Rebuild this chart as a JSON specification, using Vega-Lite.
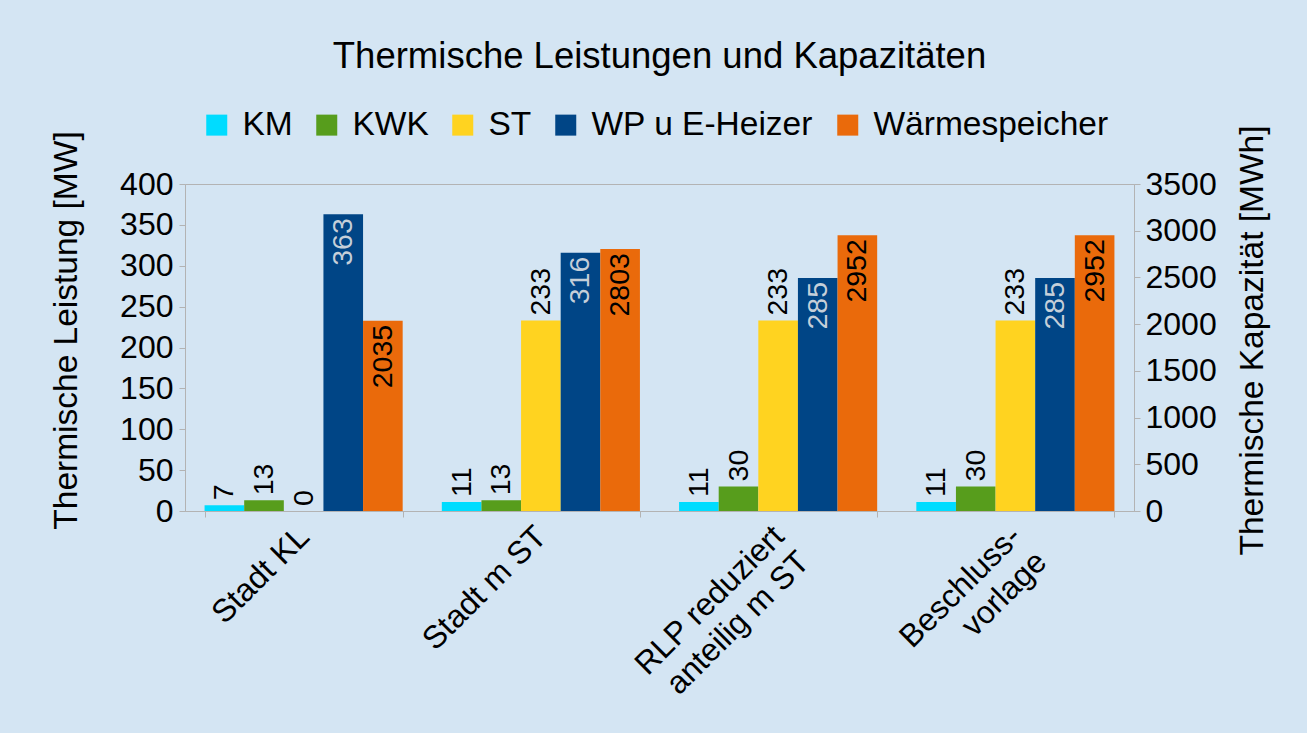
{
  "$schema": "https://vega.github.io/schema/vega-lite/v6.json",
  "width": 949,
  "height": 327,
  "autosize": {"type": "none"},
  "padding": {"left": 185, "top": 184, "right": 173, "bottom": 222},
  "background": "#d4e5f3",
  "title": {
    "text": "Thermische Leistungen und Kapazitäten",
    "fontSize": 36.5,
    "fontWeight": "normal",
    "color": "black",
    "anchor": "middle",
    "frame": "group",
    "offset": 33
  },
  "data": {
    "values": [
      {"scenario": "Stadt KL", "series": "KM", "value": 7},
      {"scenario": "Stadt KL", "series": "KWK", "value": 13},
      {"scenario": "Stadt KL", "series": "ST", "value": 0},
      {"scenario": "Stadt KL", "series": "WP u E-Heizer", "value": 363},
      {"scenario": "Stadt KL", "series": "Wärmespeicher", "value": 2035},
      {"scenario": "Stadt m ST", "series": "KM", "value": 11},
      {"scenario": "Stadt m ST", "series": "KWK", "value": 13},
      {"scenario": "Stadt m ST", "series": "ST", "value": 233},
      {"scenario": "Stadt m ST", "series": "WP u E-Heizer", "value": 316},
      {"scenario": "Stadt m ST", "series": "Wärmespeicher", "value": 2803},
      {"scenario": "RLP reduziert\nanteilig m ST", "series": "KM", "value": 11},
      {"scenario": "RLP reduziert\nanteilig m ST", "series": "KWK", "value": 30},
      {"scenario": "RLP reduziert\nanteilig m ST", "series": "ST", "value": 233},
      {"scenario": "RLP reduziert\nanteilig m ST", "series": "WP u E-Heizer", "value": 285},
      {"scenario": "RLP reduziert\nanteilig m ST", "series": "Wärmespeicher", "value": 2952},
      {"scenario": "Beschluss-\nvorlage", "series": "KM", "value": 11},
      {"scenario": "Beschluss-\nvorlage", "series": "KWK", "value": 30},
      {"scenario": "Beschluss-\nvorlage", "series": "ST", "value": 233},
      {"scenario": "Beschluss-\nvorlage", "series": "WP u E-Heizer", "value": 285},
      {"scenario": "Beschluss-\nvorlage", "series": "Wärmespeicher", "value": 2952}
    ]
  },
  "encoding": {
    "x": {
      "field": "scenario",
      "type": "nominal",
      "sort": null,
      "scale": {"paddingInner": 0.165, "paddingOuter": 0.0825},
      "axis": {
        "title": null,
        "labelAngle": -45,
        "labelAlign": "right",
        "labelBaseline": "middle",
        "labelFontSize": 32,
        "labelPadding": 14,
        "labelLineHeight": 36,
        "labelLimit": 600,
        "labelExpr": "split(datum.label, '\\n')",
        "tickBand": "extent",
        "tickSize": 6,
        "labelOverlap": false
      }
    },
    "xOffset": {
      "field": "series",
      "type": "nominal",
      "scale": {
        "domain": ["KM", "KWK", "ST", "WP u E-Heizer", "Wärmespeicher"],
        "paddingInner": 0,
        "paddingOuter": 0
      }
    }
  },
  "layer": [
    {
      "layer": [
        {
          "transform": [{"filter": "datum.series !== 'Wärmespeicher'"}],
          "mark": {"type": "bar"},
          "encoding": {
            "y": {
              "field": "value",
              "type": "quantitative",
              "scale": {"domain": [0, 400], "nice": false},
              "axis": {
                "title": "Thermische Leistung [MW]",
                "values": [0, 50, 100, 150, 200, 250, 300, 350, 400],
                "format": "d",
                "labelFontSize": 32,
                "labelPadding": 6,
                "tickSize": 6,
                "titlePadding": 36,
                "titleY": 146,
                "labelOverlap": false
              }
            },
            "color": {
              "field": "series",
              "type": "nominal",
              "scale": {
                "domain": ["KM", "KWK", "ST", "WP u E-Heizer", "Wärmespeicher"],
                "range": ["#00dcff", "#579d1c", "#ffd320", "#004586", "#ea6a0b"]
              },
              "legend": {
                "title": null,
                "orient": "none",
                "direction": "horizontal",
                "legendX": 15,
                "legendY": -76,
                "symbolType": "square",
                "symbolSize": 441,
                "symbolStrokeWidth": 0,
                "symbolOpacity": 1,
                "labelFontSize": 33.5,
                "labelColor": "black",
                "labelOffset": 9,
                "labelLimit": 600,
                "columnPadding": 17
              }
            }
          }
        },
        {
          "transform": [{"filter": "datum.series === 'KM' || datum.series === 'KWK' || datum.series === 'ST'"}],
          "mark": {"type": "text", "angle": 270, "align": "left", "baseline": "middle", "dx": 5, "fontSize": 28.5, "color": "black"},
          "encoding": {
            "y": {"field": "value", "type": "quantitative"},
            "text": {"field": "value", "type": "quantitative"}
          }
        },
        {
          "transform": [{"filter": "datum.series === 'WP u E-Heizer'"}],
          "mark": {"type": "text", "angle": 270, "align": "right", "baseline": "middle", "dx": -4, "fontSize": 28.5, "color": "#c5cfd9"},
          "encoding": {
            "y": {"field": "value", "type": "quantitative"},
            "text": {"field": "value", "type": "quantitative"}
          }
        }
      ]
    },
    {
      "layer": [
        {
          "transform": [{"filter": "datum.series === 'Wärmespeicher'"}],
          "mark": {"type": "bar"},
          "encoding": {
            "y": {
              "field": "value",
              "type": "quantitative",
              "scale": {"domain": [0, 3500], "nice": false},
              "axis": {
                "orient": "right",
                "title": "Thermische Kapazität [MWh]",
                "values": [0, 500, 1000, 1500, 2000, 2500, 3000, 3500],
                "format": "d",
                "labelFontSize": 32,
                "labelPadding": 5,
                "tickSize": 6,
                "titleAngle": 270,
                "titleBaseline": "top",
                "titlePadding": 20,
                "titleY": 156,
                "labelOverlap": false
              }
            },
            "color": {"field": "series", "type": "nominal"}
          }
        },
        {
          "transform": [{"filter": "datum.series === 'Wärmespeicher'"}],
          "mark": {"type": "text", "angle": 270, "align": "right", "baseline": "middle", "dx": -4, "fontSize": 28.5, "color": "black"},
          "encoding": {
            "y": {"field": "value", "type": "quantitative"},
            "text": {"field": "value", "type": "quantitative"}
          }
        }
      ]
    }
  ],
  "resolve": {"scale": {"y": "independent"}},
  "config": {
    "font": "Liberation Sans",
    "view": {"stroke": "#b3b3b3", "strokeWidth": 1},
    "axis": {
      "domainColor": "#b3b3b3",
      "tickColor": "#b3b3b3",
      "labelColor": "black",
      "titleColor": "black",
      "titleFontSize": 33.5,
      "titleFontWeight": "normal",
      "grid": false
    }
  }
}
